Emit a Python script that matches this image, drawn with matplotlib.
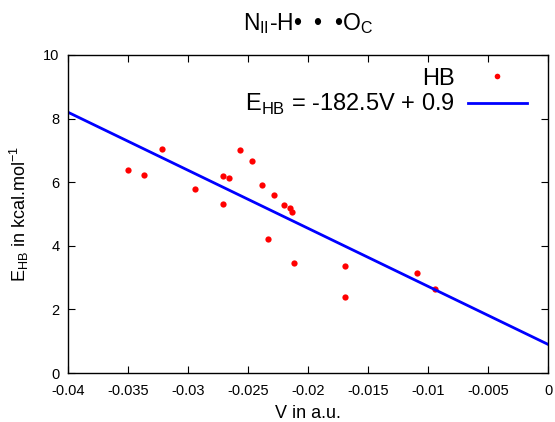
import numpy as np
import matplotlib
matplotlib.use("Agg")
import matplotlib.pyplot as plt

plt.rcParams["font.family"] = ["Liberation Sans", "DejaVu Sans"]
plt.rcParams["mathtext.fontset"] = "custom"
plt.rcParams["mathtext.rm"] = "Liberation Sans"

# data
v_au = [-0.0350, -0.0337, -0.0322, -0.0294, -0.0271, -0.0266, -0.0271, -0.0257,
        -0.0247, -0.0238, -0.0228, -0.0220, -0.0215, -0.0213, -0.0233, -0.0212,
        -0.0169, -0.0169, -0.0109, -0.0094]
e_hb = [6.39, 6.23, 7.04, 5.78, 6.21, 6.12, 5.31, 7.01, 6.66, 5.92, 5.59, 5.29,
        5.18, 5.06, 4.21, 3.46, 3.35, 2.38, 3.15, 2.63]
slope = -182.5
intercept = 0.9
xticks = [-0.04, -0.035, -0.03, -0.025, -0.02, -0.015, -0.01, -0.005, 0]
xticklabels = ["-0.04", "-0.035", "-0.03", "-0.025", "-0.02", "-0.015", "-0.01", "-0.005", "0"]
yticks = [0, 2, 4, 6, 8, 10]

fig = plt.figure(figsize=(5.55, 4.22), dpi=100)
ax = fig.add_axes([0.1225, 0.1161, 0.865, 0.7536])

ax.plot(v_au, e_hb, "o", color="#ff0000", markersize=4.5, markeredgewidth=0, label="HB")
xfit = np.array([-0.04, 0.0])
ax.plot(xfit, slope * xfit + intercept, color="#0000ff", linewidth=2,
        label="E$_{\\mathregular{HB}}$ = -182.5V + 0.9")

ax.set_xlim(-0.04, 0)
ax.set_ylim(0, 10)
ax.set_xticks(xticks)
ax.set_xticklabels(xticklabels)
ax.set_yticks(yticks)
ax.tick_params(direction="in", top=True, right=True, length=5, labelsize=10.5)
ax.tick_params(axis="x", pad=8)
ax.tick_params(axis="y", pad=6)
for s in ax.spines.values():
    s.set_linewidth(1)

ax.set_xlabel("V in a.u.", fontsize=13, va="baseline")
ax.xaxis.set_label_coords(0.5, -0.143)
ax.set_ylabel("E$_{\\mathregular{HB}}$ in kcal.mol$^{\\mathregular{-1}}$", fontsize=13)
ax.yaxis.set_label_coords(-0.077, 0.5)
ax.text(0.5, 1.079, "N$_{\\mathregular{II}}$-H\u2022  \u2022  \u2022O$_{\\mathregular{C}}$",
        transform=ax.transAxes, ha="center", va="baseline", fontsize=16.5)

leg = ax.legend(loc="upper right", bbox_to_anchor=(0.956, 0.96), markerfirst=False,
                frameon=False, fontsize=17, handlelength=2.5, borderpad=0,
                borderaxespad=0, labelspacing=0.1, handletextpad=0.55, markerscale=0.9)

fig.savefig("out.png", dpi=100)
